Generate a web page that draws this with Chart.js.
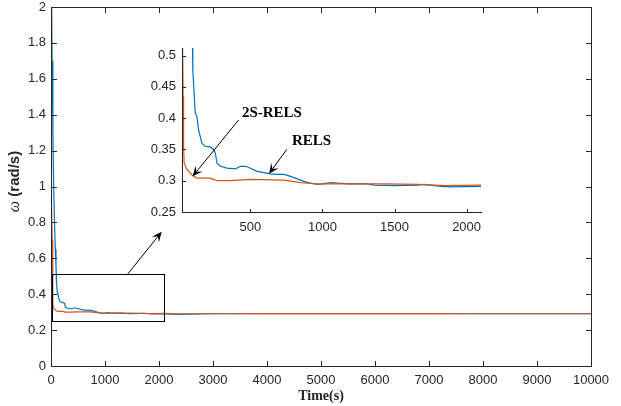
<!DOCTYPE html>
<html>
<head>
<meta charset="utf-8">
<script src="https://cdn.jsdelivr.net/npm/chart.js@4.4.1/dist/chart.umd.min.js"></script>
<style>
  html, body { margin: 0; padding: 0; background: #fff; }
  #wrap { position: relative; width: 621px; height: 406px; }
  #main { position: absolute; left: 0; top: 0; }
  #inset { position: absolute; left: 140px; top: 40px; }
</style>
</head>
<body>
<div id="wrap">
  <canvas id="main" width="621" height="406"></canvas>
  <canvas id="inset" width="350" height="200"></canvas>
</div>
<script>
// RELS 估计 (蓝)
const relsT = [0, 10, 20, 35, 50, 65, 80, 92, 98, 100, 117, 128, 140, 163, 186, 221, 245, 256, 268, 291,
    337, 396, 430, 465, 500, 546, 593, 639, 686, 732, 779, 825, 872, 918, 964, 999, 1057, 1104, 1197, 1313,
    1359, 1498, 1661, 1707, 1823, 1893, 2102, 2300, 2600, 3000, 4000, 5000, 6000, 7000, 8000, 9000, 10000];
const relsW = [2.6, 2.05, 1.7, 1.3, 1.0, 0.8, 0.65, 0.56, 0.512, 0.477, 0.408, 0.403, 0.381, 0.360, 0.355, 0.354, 0.350, 0.344, 0.328, 0.323,
    0.320, 0.319, 0.323, 0.323, 0.320, 0.315, 0.313, 0.311, 0.310, 0.310, 0.307, 0.303, 0.299, 0.296, 0.294, 0.295, 0.297, 0.296, 0.295, 0.295,
    0.293, 0.292, 0.293, 0.294, 0.291, 0.290, 0.291, 0.288, 0.289, 0.291, 0.292, 0.292, 0.292, 0.292, 0.291, 0.291, 0.291];

// 2S-RELS 估计 (橙)
const twoST = [0, 3, 8, 15, 22, 29, 33, 36, 40, 59, 82, 101, 128, 221, 268, 361, 500, 732, 848, 964,
    1197, 1429, 1661, 1847, 2102, 2300, 2600, 3000, 4000, 5000, 6000, 7000, 8000, 9000, 10000];
const twoSW = [0.1, 2.4, 1.05, 0.9, 0.7, 0.512, 0.435, 0.355, 0.328, 0.318, 0.312, 0.308, 0.304, 0.304, 0.300, 0.300, 0.302, 0.301, 0.297, 0.295,
    0.295, 0.295, 0.294, 0.292, 0.293, 0.291, 0.291, 0.291, 0.292, 0.292, 0.292, 0.292, 0.291, 0.291, 0.291];

const mainXTicks = [0, 1000, 2000, 3000, 4000, 5000, 6000, 7000, 8000, 9000, 10000];
const mainYTicks = [0, 0.2, 0.4, 0.6, 0.8, 1, 1.2, 1.4, 1.6, 1.8, 2];
const insetXTicks = [500, 1000, 1500, 2000];
const insetYTicks = [0.25, 0.3, 0.35, 0.4, 0.45, 0.5];

// 局部放大区域
const zoomBox = { x0: 25, x1: 2100, y0: 0.25, y1: 0.512 };

const BLUE = '#0072BD';
const ORANGE = '#D95319';
const AXIS = '#262626';

Chart.defaults.font.family = '"Liberation Sans", Arial, sans-serif';
Chart.defaults.font.size = 13;
Chart.defaults.color = AXIS;

function toPoints(ts, ws) {
    return ts.map((t, i) => ({ x: t, y: ws[i] }));
}

function makeDatasets() {
    return [
        { label: 'RELS', data: toPoints(relsT, relsW), borderColor: BLUE, borderWidth: 1.2, pointRadius: 0, order: 1 },
        { label: '2S-RELS', data: toPoints(twoST, twoSW), borderColor: ORANGE, borderWidth: 1.2, pointRadius: 0, order: 0 }
    ];
}

function fmt(v) {
    return String(+v.toFixed(2));
}

// 固定坐标轴占位，不让刻度标签撑开绘图区
function fixX(h) {
    return s => { s.height = h; s.paddingLeft = 0; s.paddingRight = 0; };
}
function fixY(w) {
    return s => { s.width = w; s.paddingTop = 0; s.paddingBottom = 0; };
}

// 1px 横线/竖线
function hline(ctx, x0, x1, y) {
    ctx.fillRect(Math.round(x0), Math.round(y), Math.round(x1) - Math.round(x0) + 1, 1);
}
function vline(ctx, x, y0, y1) {
    ctx.fillRect(Math.round(x), Math.round(y0), 1, Math.round(y1) - Math.round(y0) + 1);
}

// 箭头
function drawArrow(ctx, x1, y1, x2, y2) {
    const ang = Math.atan2(y2 - y1, x2 - x1);
    const len = 10, half = 4.5;
    ctx.beginPath();
    ctx.moveTo(x1, y1);
    ctx.lineTo(x2 - Math.cos(ang) * len * 0.6, y2 - Math.sin(ang) * len * 0.6);
    ctx.stroke();
    ctx.save();
    ctx.translate(x2, y2);
    ctx.rotate(ang);
    ctx.beginPath();
    ctx.moveTo(0, 0);
    ctx.lineTo(-len, -half);
    ctx.lineTo(-len * 0.6, 0);
    ctx.lineTo(-len, half);
    ctx.closePath();
    ctx.fill();
    ctx.restore();
}

// 主图：边框、内向刻度、放大框、箭头、y轴标题
const mainDecor = {
    id: 'mainDecor',
    afterDraw(chart) {
        const ctx = chart.ctx;
        const a = chart.chartArea;
        const x = chart.scales.x, y = chart.scales.y;
        ctx.save();
        ctx.fillStyle = AXIS;
        hline(ctx, a.left, a.right, a.top);
        hline(ctx, a.left, a.right, a.bottom);
        vline(ctx, a.left, a.top, a.bottom);
        vline(ctx, a.right, a.top, a.bottom);
        mainXTicks.forEach(v => {
            const px = x.getPixelForValue(v);
            vline(ctx, px, a.bottom - 5, a.bottom);
            vline(ctx, px, a.top, a.top + 5);
        });
        mainYTicks.forEach(v => {
            const py = y.getPixelForValue(v);
            hline(ctx, a.left, a.left + 5, py);
            hline(ctx, a.right - 5, a.right, py);
        });

        ctx.strokeStyle = '#000';
        ctx.fillStyle = '#000';
        ctx.lineWidth = 1;
        const rx0 = Math.round(x.getPixelForValue(zoomBox.x0)) + 0.5, rx1 = Math.round(x.getPixelForValue(zoomBox.x1)) + 0.5;
        const ry0 = Math.round(y.getPixelForValue(zoomBox.y0)) + 0.5, ry1 = Math.round(y.getPixelForValue(zoomBox.y1)) + 0.5;
        ctx.strokeRect(rx0, ry1, rx1 - rx0, ry0 - ry1);
        drawArrow(ctx, x.getPixelForValue(1420), y.getPixelForValue(zoomBox.y1),
            x.getPixelForValue(2050), y.getPixelForValue(0.748));

        // ω (rad/s)
        ctx.translate(15, (a.top + a.bottom) / 2 - 5);
        ctx.rotate(-Math.PI / 2);
        ctx.fillStyle = AXIS;
        ctx.textBaseline = 'middle';
        const f1 = 'italic 16px "Liberation Serif", serif';
        const f2 = 'bold 15px "Liberation Sans", Arial, sans-serif';
        ctx.font = f1;
        const w1 = ctx.measureText('\u03c9').width;
        ctx.font = f2;
        const w2 = ctx.measureText(' (rad/s)').width;
        const sx = -(w1 + w2) / 2;
        ctx.textAlign = 'left';
        ctx.font = f1;
        ctx.fillText('\u03c9', sx, 0);
        ctx.font = f2;
        ctx.fillText(' (rad/s)', sx + w1, 0);
        ctx.restore();
    }
};

// 放大图：左/下坐标轴、刻度、标注
const insetDecor = {
    id: 'insetDecor',
    afterDraw(chart) {
        const ctx = chart.ctx;
        const a = chart.chartArea;
        const x = chart.scales.x, y = chart.scales.y;
        ctx.save();
        ctx.fillStyle = AXIS;
        vline(ctx, a.left, a.top, a.bottom);
        hline(ctx, a.left, a.right, a.bottom);
        insetXTicks.forEach(v => vline(ctx, x.getPixelForValue(v), a.bottom - 3, a.bottom));
        insetYTicks.forEach(v => hline(ctx, a.left, a.left + 3, y.getPixelForValue(v)));

        ctx.strokeStyle = '#000';
        ctx.fillStyle = '#000';
        ctx.lineWidth = 1;
        drawArrow(ctx, x.getPixelForValue(418), y.getPixelForValue(0.397),
            x.getPixelForValue(99), y.getPixelForValue(0.307));
        drawArrow(ctx, x.getPixelForValue(752), y.getPixelForValue(0.350),
            x.getPixelForValue(629), y.getPixelForValue(0.311));

        ctx.font = 'bold 15px "Liberation Serif", serif';
        ctx.textBaseline = 'middle';
        ctx.textAlign = 'left';
        ctx.fillText('2S-RELS', x.getPixelForValue(441), y.getPixelForValue(0.408));
        ctx.fillText('RELS', x.getPixelForValue(788), y.getPixelForValue(0.363));
        ctx.restore();
    }
};

new Chart(document.getElementById('main'), {
    type: 'line',
    data: { datasets: makeDatasets() },
    options: {
        responsive: false,
        animation: false,
        layout: { padding: { top: 7, right: 30, left: 0, bottom: 0 } },
        plugins: { legend: { display: false }, tooltip: { enabled: false } },
        scales: {
            x: {
                type: 'linear', min: 0, max: 10000,
                grid: { display: false, drawTicks: false }, border: { display: false },
                afterBuildTicks: s => { s.ticks = mainXTicks.map(v => ({ value: v })); },
                afterFit: fixX(40),
                ticks: { padding: 7, maxRotation: 0, autoSkip: false, callback: v => String(v) },
                title: { display: true, text: 'Time(s)', color: AXIS, padding: { top: 0, bottom: 1 },
                    font: { family: '"Liberation Serif", serif', size: 14, weight: 'bold' } }
            },
            y: {
                type: 'linear', min: 0, max: 2,
                grid: { display: false, drawTicks: false }, border: { display: false },
                afterBuildTicks: s => { s.ticks = mainYTicks.map(v => ({ value: v })); },
                afterFit: fixY(51),
                ticks: { padding: 5, autoSkip: false, callback: v => fmt(v) }
            }
        }
    },
    plugins: [mainDecor]
});

new Chart(document.getElementById('inset'), {
    type: 'line',
    data: { datasets: makeDatasets() },
    options: {
        responsive: false,
        animation: false,
        layout: { padding: { top: 8, right: 9, left: 0, bottom: 0 } },
        plugins: { legend: { display: false }, tooltip: { enabled: false } },
        scales: {
            x: {
                type: 'linear', min: zoomBox.x0, max: zoomBox.x1,
                grid: { display: false, drawTicks: false }, border: { display: false },
                afterBuildTicks: s => { s.ticks = insetXTicks.map(v => ({ value: v })); },
                afterFit: fixX(28),
                ticks: { padding: 8, maxRotation: 0, autoSkip: false, callback: v => String(v) }
            },
            y: {
                type: 'linear', min: zoomBox.y0, max: zoomBox.y1,
                grid: { display: false, drawTicks: false }, border: { display: false },
                afterBuildTicks: s => { s.ticks = insetYTicks.map(v => ({ value: v })); },
                afterFit: fixY(42),
                ticks: { padding: 6, autoSkip: false, callback: v => fmt(v) }
            }
        }
    },
    plugins: [insetDecor]
});
</script>
</body>
</html>
